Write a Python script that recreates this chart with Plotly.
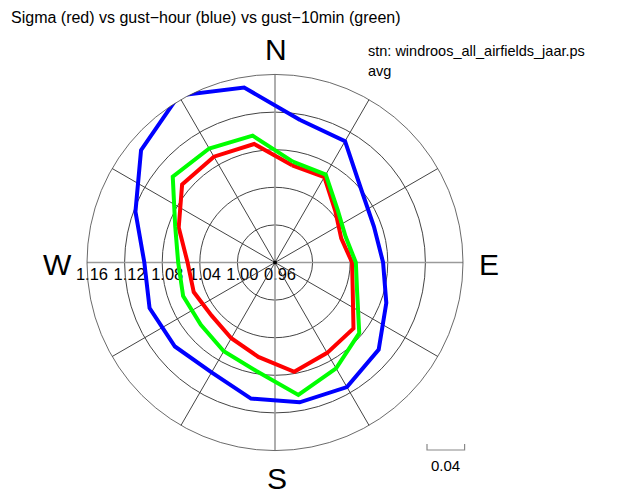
import plotly.graph_objects as go

# directions (degrees, clockwise from north)
theta = [10, 30, 50, 70, 90, 110, 130, 150, 170, 190, 210, 230, 250, 270, 290, 310, 330, 350]
sigma = [1.065, 1.065, 1.044, 1.035, 1.042, 1.048, 1.069, 1.071, 1.078, 1.062,
         1.053, 1.048, 1.052, 1.053, 1.069, 1.089, 1.090, 1.088]
gust_hour = [1.114, 1.109, 1.080, 1.072, 1.075, 1.086, 1.104, 1.113, 1.111, 1.107,
             1.095, 1.099, 1.102, 1.099, 1.118, 1.146, 1.165, 1.149]
gust_10min = [1.069, 1.068, 1.047, 1.040, 1.046, 1.053, 1.077, 1.090, 1.103, 1.077,
              1.069, 1.063, 1.064, 1.063, 1.073, 1.102, 1.100, 1.097]
r_ticks = [0.96, 1.00, 1.04, 1.08, 1.12, 1.16]
r_ticktext = ["0.96", "1.00", "1.04", "1.08", "1.12", "1.16"]
spokes = [30, 60, 120, 150, 210, 240, 300, 330]
cardinals = ["N", "E", "S", "W"]
scale_step = 0.04

W, H = 622, 495
cx, cy, R = 275, 262.5, 188
r0, r1 = r_ticks[0], r_ticks[-1]
FONT = "Liberation Sans, Arial, Helvetica, sans-serif"

fig = go.Figure()

# cardinal axis lines (grey diameters)
for ang in [0, 90]:
    fig.add_trace(go.Scatterpolar(
        r=[r1, r0, r1], theta=[ang, ang, ang + 180], mode="lines",
        line=dict(color="#9a9a9a", width=1.6), hoverinfo="skip", showlegend=False))

def closed(a):
    return list(a) + [a[0]]

for vals, col in [(sigma, "#ff0000"), (gust_hour, "#0000ff"), (gust_10min, "#00ff00")]:
    fig.add_trace(go.Scatterpolar(
        r=closed(vals), theta=closed(theta), mode="lines",
        line=dict(color=col, width=4), cliponaxis=False, showlegend=False))

# centre dot
fig.add_trace(go.Scatterpolar(r=[r0], theta=[0], mode="markers",
                              marker=dict(color="black", size=4), showlegend=False))

# invisible cartesian axis along the west radius carrying the radial tick labels
fig.add_trace(go.Scatter(x=[r0, r1], y=[0, 0], mode="lines", line=dict(width=0),
                         hoverinfo="skip", showlegend=False, xaxis="x", yaxis="y"))

ax_y = (H - cy) / H
fig.update_layout(
    width=W, height=H, margin=dict(l=0, r=0, t=0, b=0, autoexpand=False),
    paper_bgcolor="white", plot_bgcolor="rgba(0,0,0,0)",
    font=dict(family=FONT, color="black"),
    xaxis=dict(domain=[(cx - R) / W, cx / W], range=[r1, r0], tickmode="array",
               tickvals=r_ticks, ticktext=r_ticktext, showgrid=False, zeroline=False,
               showline=False, ticks="", ticklabelstandoff=0, ticklabelshift=-5,
               automargin=False,
               tickfont=dict(size=16.5, color="black", family=FONT), fixedrange=True),
    yaxis=dict(domain=[ax_y, ax_y + 0.01], visible=False, range=[0, 1], fixedrange=True,
               automargin=False),
    polar=dict(
        domain=dict(x=[(cx - R) / W, (cx + R) / W], y=[(H - cy - R) / H, (H - cy + R) / H]),
        bgcolor="rgba(0,0,0,0)",
        radialaxis=dict(range=[r0, r1], tickmode="array", tickvals=r_ticks,
                        showticklabels=False, showline=False, ticks="",
                        gridcolor="#444444", gridwidth=0.7),
        angularaxis=dict(rotation=90, direction="clockwise", tickmode="array", tickvals=spokes,
                         showticklabels=False, ticks="", gridcolor="#444444", gridwidth=0.7,
                         showline=True, linecolor="#444444", linewidth=0.8),
    ),
)

def px(x, y):
    return x / W, 1 - y / H

ann = []
t = dict(xref="paper", yref="paper", showarrow=False)
ann.append(dict(text="Sigma (red) vs gust\u2212hour (blue) vs gust\u221210min (green)",
                x=px(9, 0)[0], y=px(0, 7)[1], xanchor="left", yanchor="top",
                font=dict(size=16), **t))
ann.append(dict(text="stn: windroos_all_airfields_jaar.ps", x=px(366, 0)[0], y=px(0, 41)[1],
                xanchor="left", yanchor="top", font=dict(size=14.5), **t))
ann.append(dict(text="avg", x=px(366, 0)[0], y=px(0, 61)[1],
                xanchor="left", yanchor="top", font=dict(size=14.5), **t))
card_pos = {"N": (276, 50), "E": (489, 264), "S": (277, 478), "W": (57, 264)}
for c in cardinals:
    x, y = card_pos[c]
    ann.append(dict(text=c, x=px(x, 0)[0], y=px(0, y)[1], xanchor="center", yanchor="middle",
                    font=dict(size=30), **t))

# scale bar showing 0.04 in radial units
bar_len = scale_step / (r1 - r0) * R
bx0, by0 = 427, 444
fig.add_shape(type="path", xref="paper", yref="paper",
              path=f"M {px(bx0,by0)[0]} {px(bx0,by0)[1]} L {px(bx0,by0+6)[0]} {px(bx0,by0+6)[1]} "
                   f"L {px(bx0+bar_len,by0+6)[0]} {px(bx0+bar_len,by0+6)[1]} "
                   f"L {px(bx0+bar_len,by0)[0]} {px(bx0+bar_len,by0)[1]}",
              line=dict(color="#888888", width=1.2))
ann.append(dict(text=f"{scale_step:.2f}", x=px(bx0 + bar_len / 2, 0)[0], y=px(0, 465)[1],
                xanchor="center", yanchor="middle", font=dict(size=15), **t))
fig.update_layout(annotations=ann)

fig.write_html("out.html")
